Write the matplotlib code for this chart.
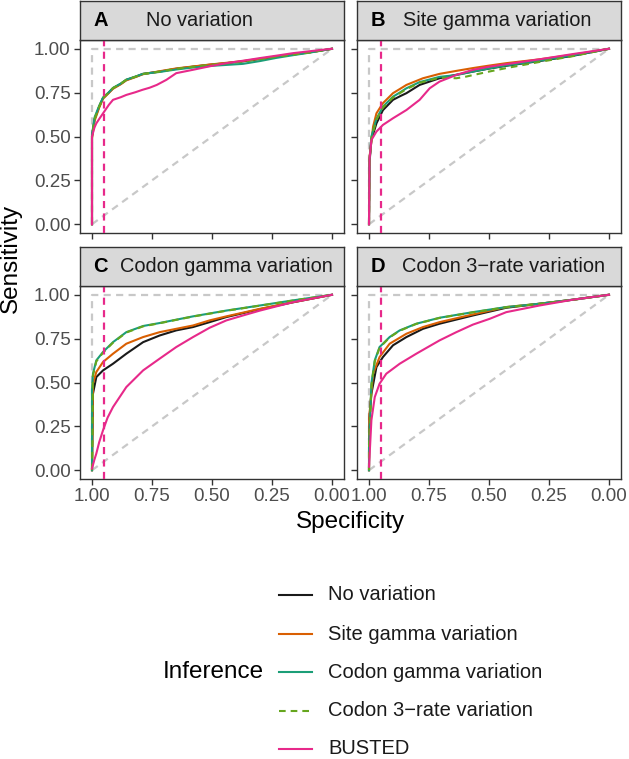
import matplotlib
matplotlib.use('Agg')
import matplotlib.pyplot as plt
from matplotlib.lines import Line2D

plt.rcParams['font.family'] = ['Liberation Sans', 'DejaVu Sans']

# panel names
panels = ['A', 'B', 'C', 'D']
panel_titles = ['No variation', 'Site gamma variation', 'Codon gamma variation', 'Codon 3\u2212rate variation']

methods = ['No variation', 'Site gamma variation', 'Codon gamma variation', 'Codon 3\u2212rate variation', 'BUSTED']
colors = ['#1A1A1A', '#D95F02', '#1B9E77', '#66A61E', '#E7298A']
styles = ['-', '-', '-', (0, (3.2, 2.4)), '-']

# ROC curves: specificity (x) and sensitivity (y)
# Panel A
spec_A_none = [1.0, 1.0, 0.989, 0.97, 0.954, 0.93, 0.9125, 0.88, 0.857, 0.82, 0.7875, 0.718, 0.649, 0.58, 0.51, 0.44, 0.371, 0.30, 0.232, 0.16, 0.093, 0.0]
sens_A_none = [0.0, 0.50, 0.60, 0.67, 0.72, 0.75, 0.775, 0.80, 0.823, 0.84, 0.857, 0.870, 0.886, 0.898, 0.909, 0.918, 0.928, 0.942, 0.956, 0.968, 0.98, 1.0]
spec_A_site = [1.0, 1.0, 0.989, 0.97, 0.954, 0.93, 0.9125, 0.88, 0.857, 0.82, 0.7875, 0.718, 0.649, 0.58, 0.51, 0.44, 0.371, 0.30, 0.232, 0.16, 0.093, 0.0]
sens_A_site = [0.0, 0.49, 0.59, 0.665, 0.715, 0.748, 0.772, 0.798, 0.82, 0.838, 0.855, 0.872, 0.888, 0.899, 0.910, 0.920, 0.930, 0.943, 0.956, 0.968, 0.98, 1.0]
spec_A_codon = [1.0, 1.0, 0.989, 0.97, 0.954, 0.93, 0.9125, 0.88, 0.857, 0.82, 0.7875, 0.718, 0.649, 0.58, 0.51, 0.44, 0.371, 0.30, 0.232, 0.16, 0.093, 0.0]
sens_A_codon = [0.0, 0.51, 0.61, 0.675, 0.722, 0.752, 0.777, 0.802, 0.824, 0.841, 0.857, 0.868, 0.882, 0.893, 0.902, 0.908, 0.914, 0.930, 0.948, 0.964, 0.978, 1.0]
spec_A_3rate = [1.0, 1.0, 0.989, 0.97, 0.954, 0.93, 0.9125, 0.88, 0.857, 0.82, 0.7875, 0.718, 0.649, 0.58, 0.51, 0.44, 0.371, 0.30, 0.232, 0.16, 0.093, 0.0]
sens_A_3rate = [0.0, 0.50, 0.60, 0.67, 0.72, 0.75, 0.776, 0.801, 0.823, 0.840, 0.856, 0.870, 0.886, 0.897, 0.908, 0.917, 0.927, 0.941, 0.955, 0.967, 0.979, 1.0]
spec_A_busted = [1.0, 1.0, 0.99, 0.982, 0.97, 0.954, 0.93, 0.9125, 0.88, 0.857, 0.82, 0.79, 0.76, 0.73, 0.69, 0.649, 0.58, 0.51, 0.44, 0.37, 0.30, 0.23, 0.1625, 0.08, 0.0]
sens_A_busted = [0.0, 0.50, 0.55, 0.575, 0.60, 0.632, 0.68, 0.709, 0.724, 0.737, 0.752, 0.766, 0.778, 0.794, 0.823, 0.861, 0.88, 0.90, 0.918, 0.932, 0.947, 0.961, 0.975, 0.988, 1.0]

# Panel B
spec_B_none = [1.0, 0.998, 0.99, 0.969, 0.942, 0.9, 0.87, 0.844, 0.789, 0.706, 0.636, 0.567, 0.50, 0.428, 0.289, 0.15, 0.0]
sens_B_none = [0.0, 0.35, 0.48, 0.575, 0.65, 0.709, 0.73, 0.747, 0.794, 0.832, 0.852, 0.870, 0.887, 0.903, 0.930, 0.960, 1.0]
spec_B_site = [1.0, 0.998, 0.983, 0.969, 0.942, 0.9, 0.87, 0.844, 0.775, 0.706, 0.636, 0.567, 0.50, 0.428, 0.289, 0.15, 0.0]
sens_B_site = [0.0, 0.38, 0.556, 0.632, 0.69, 0.747, 0.772, 0.794, 0.832, 0.857, 0.874, 0.89, 0.904, 0.918, 0.94, 0.966, 1.0]
spec_B_codon = [1.0, 0.998, 0.99, 0.969, 0.942, 0.9, 0.87, 0.844, 0.789, 0.706, 0.636, 0.567, 0.50, 0.428, 0.289, 0.15, 0.0]
sens_B_codon = [0.0, 0.36, 0.50, 0.60, 0.67, 0.727, 0.752, 0.775, 0.81, 0.84, 0.85, 0.87, 0.888, 0.905, 0.932, 0.962, 1.0]
spec_B_3rate = [1.0, 0.998, 0.99, 0.969, 0.942, 0.9, 0.87, 0.844, 0.789, 0.706, 0.636, 0.60, 0.567, 0.50, 0.428, 0.289, 0.15, 0.0]
sens_B_3rate = [0.0, 0.36, 0.49, 0.595, 0.665, 0.722, 0.748, 0.77, 0.806, 0.835, 0.832, 0.84, 0.85, 0.87, 0.89, 0.925, 0.958, 1.0]
spec_B_busted = [1.0, 0.998, 0.99, 0.969, 0.942, 0.9, 0.844, 0.789, 0.747, 0.706, 0.636, 0.567, 0.50, 0.428, 0.289, 0.15, 0.0]
sens_B_busted = [0.0, 0.366, 0.48, 0.528, 0.566, 0.604, 0.651, 0.709, 0.775, 0.813, 0.851, 0.88, 0.898, 0.912, 0.94, 0.97, 1.0]

# Panel C
spec_C_none = [1.0, 0.996, 0.982, 0.954, 0.9125, 0.857, 0.787, 0.718, 0.649, 0.579, 0.51, 0.44, 0.30, 0.1625, 0.0]
sens_C_none = [0.0, 0.436, 0.531, 0.569, 0.607, 0.664, 0.73, 0.768, 0.797, 0.816, 0.844, 0.873, 0.918, 0.957, 1.0]
spec_C_site = [1.0, 0.996, 0.982, 0.954, 0.9125, 0.857, 0.787, 0.718, 0.649, 0.579, 0.51, 0.44, 0.30, 0.1625, 0.0]
sens_C_site = [0.0, 0.493, 0.56, 0.617, 0.664, 0.721, 0.759, 0.787, 0.806, 0.825, 0.854, 0.877, 0.92, 0.958, 1.0]
spec_C_codon = [1.0, 1.0, 0.996, 0.982, 0.954, 0.9125, 0.857, 0.787, 0.718, 0.649, 0.579, 0.44, 0.30, 0.1625, 0.0]
sens_C_codon = [0.0, 0.455, 0.55, 0.626, 0.674, 0.73, 0.787, 0.822, 0.839, 0.858, 0.877, 0.91, 0.939, 0.968, 1.0]
spec_C_3rate = [1.0, 0.998, 0.996, 0.982, 0.954, 0.9125, 0.857, 0.787, 0.718, 0.649, 0.579, 0.44, 0.30, 0.1625, 0.0]
sens_C_3rate = [0.0, 0.17, 0.54, 0.62, 0.67, 0.727, 0.785, 0.82, 0.838, 0.857, 0.876, 0.909, 0.938, 0.967, 1.0]
spec_C_busted = [1.0, 0.99, 0.982, 0.97, 0.954, 0.935, 0.9125, 0.857, 0.787, 0.718, 0.649, 0.579, 0.51, 0.44, 0.371, 0.30, 0.1625, 0.0]
sens_C_busted = [0.01, 0.06, 0.095, 0.16, 0.228, 0.30, 0.36, 0.474, 0.569, 0.636, 0.702, 0.759, 0.812, 0.854, 0.882, 0.91, 0.958, 1.0]

# Panel D
spec_D_none = [1.0, 0.998, 0.99, 0.969, 0.942, 0.9, 0.844, 0.775, 0.706, 0.567, 0.428, 0.289, 0.15, 0.0]
sens_D_none = [0.0, 0.30, 0.436, 0.588, 0.645, 0.712, 0.759, 0.806, 0.835, 0.882, 0.926, 0.949, 0.972, 1.0]
spec_D_site = [1.0, 0.998, 0.983, 0.956, 0.914, 0.844, 0.775, 0.706, 0.567, 0.428, 0.289, 0.15, 0.0]
sens_D_site = [0.0, 0.32, 0.55, 0.645, 0.721, 0.778, 0.816, 0.844, 0.888, 0.93, 0.949, 0.972, 1.0]
spec_D_codon = [1.0, 1.0, 0.99, 0.976, 0.956, 0.914, 0.872, 0.803, 0.706, 0.567, 0.428, 0.289, 0.15, 0.0]
sens_D_codon = [0.0, 0.13, 0.493, 0.626, 0.702, 0.759, 0.797, 0.835, 0.869, 0.901, 0.93, 0.949, 0.972, 1.0]
spec_D_3rate = [1.0, 1.0, 0.99, 0.976, 0.956, 0.914, 0.872, 0.803, 0.706, 0.567, 0.428, 0.289, 0.15, 0.0]
sens_D_3rate = [0.0, 0.12, 0.48, 0.62, 0.698, 0.757, 0.795, 0.834, 0.868, 0.90, 0.929, 0.948, 0.971, 1.0]
spec_D_busted = [1.0, 0.99, 0.976, 0.956, 0.928, 0.872, 0.803, 0.706, 0.636, 0.567, 0.497, 0.428, 0.289, 0.15, 0.0]
sens_D_busted = [0.02, 0.285, 0.417, 0.493, 0.55, 0.607, 0.664, 0.74, 0.787, 0.83, 0.863, 0.901, 0.939, 0.972, 1.0]

curves = {
    'A': [(spec_A_none, sens_A_none), (spec_A_site, sens_A_site), (spec_A_codon, sens_A_codon), (spec_A_3rate, sens_A_3rate), (spec_A_busted, sens_A_busted)],
    'B': [(spec_B_none, sens_B_none), (spec_B_site, sens_B_site), (spec_B_codon, sens_B_codon), (spec_B_3rate, sens_B_3rate), (spec_B_busted, sens_B_busted)],
    'C': [(spec_C_none, sens_C_none), (spec_C_site, sens_C_site), (spec_C_codon, sens_C_codon), (spec_C_3rate, sens_C_3rate), (spec_C_busted, sens_C_busted)],
    'D': [(spec_D_none, sens_D_none), (spec_D_site, sens_D_site), (spec_D_codon, sens_D_codon), (spec_D_3rate, sens_D_3rate), (spec_D_busted, sens_D_busted)],
}

ticks = [1.0, 0.75, 0.5, 0.25, 0.0]
tick_labels = ['1.00', '0.75', '0.50', '0.25', '0.00']
cutoff = 0.95

W, H = 629, 759
fig = plt.figure(figsize=(W / 100, H / 100), dpi=100)

def box(x0, y0, x1, y1):
    # pixel box (top-left origin) -> figure fraction
    return [x0 / W, 1 - y1 / H, (x1 - x0) / W, (y1 - y0) / H]

boxes = {'A': (80, 40, 344, 233), 'B': (357, 40, 621, 233),
         'C': (80, 286, 344, 479), 'D': (357, 286, 621, 479)}
# x pixel of the panel letter and of the strip title
strip_pos = {'A': (93, 146), 'B': (371, 403), 'C': (93, 120), 'D': (371, 402)}
border = '#333333'
grey_dash = (0, (3.2, 2.4))

for p, title in zip(panels, panel_titles):
    x0, y0, x1, y1 = boxes[p]
    ax = fig.add_axes(box(x0, y0, x1, y1))
    # reference lines
    ax.plot([1, 1, 0], [0, 1, 1], color='#C8C8C8', lw=1.6, ls=grey_dash, zorder=1)
    ax.plot([1, 0], [0, 1], color='#C8C8C8', lw=1.6, ls=grey_dash, zorder=1)
    for (sx, sy), c, ls in zip(curves[p], colors, styles):
        ax.plot(sx, sy, color=c, lw=1.5, ls=ls, zorder=2)
    ax.axvline(cutoff, color='#E7298A', lw=1.6, ls=grey_dash, zorder=3)
    ax.set_xlim(1.05, -0.05)
    ax.set_ylim(-0.05, 1.05)
    ax.set_xticks(ticks)
    ax.set_yticks(ticks)
    if p in ('C', 'D'):
        ax.set_xticklabels(tick_labels)
    else:
        ax.set_xticklabels([])
    if p in ('A', 'C'):
        ax.set_yticklabels(tick_labels)
    else:
        ax.set_yticklabels([])
    ax.tick_params(length=4.3, width=1.0, color=border, labelsize=13.5, labelcolor='#4D4D4D', pad=2.5)
    for s in ax.spines.values():
        s.set_color(border)
        s.set_linewidth(1.0)

    # facet strip
    sax = fig.add_axes(box(x0, y0 - 39, x1, y0))
    sax.set_facecolor('#D9D9D9')
    sax.set_xticks([])
    sax.set_yticks([])
    for s in sax.spines.values():
        s.set_color(border)
        s.set_linewidth(1.0)
    lx, tx = strip_pos[p]
    yc = 1 - (y0 - 19.5) / H
    fig.text(lx / W, yc, p, fontsize=14.5, fontweight='bold', va='center', ha='left', color='black')
    fig.text(tx / W, yc, title, fontsize=14.4, va='center', ha='left', color='#1A1A1A')

fig.text(11 / W, 1 - 258 / H, 'Sensitivity', rotation=90, fontsize=17.5, va='center', ha='center')
fig.text(350 / W, 1 - 522 / H, 'Specificity', fontsize=17.5, va='center', ha='center')

# legend, drawn by hand so the title can sit to the left of the keys
row_y = [595, 634, 672, 711, 749]
for yy, c, ls, lab in zip(row_y, colors, styles, methods):
    fig.add_artist(Line2D([279 / W, 312 / W], [1 - yy / H, 1 - yy / H], color=c, lw=1.5, ls=ls,
                          transform=fig.transFigure))
    fig.text(328 / W, 1 - yy / H, lab, fontsize=14.5, va='center', ha='left', color='#1A1A1A')
fig.text(163 / W, 1 - 672 / H, 'Inference', fontsize=17.5, va='center', ha='left')

fig.savefig('out.png', dpi=100)
